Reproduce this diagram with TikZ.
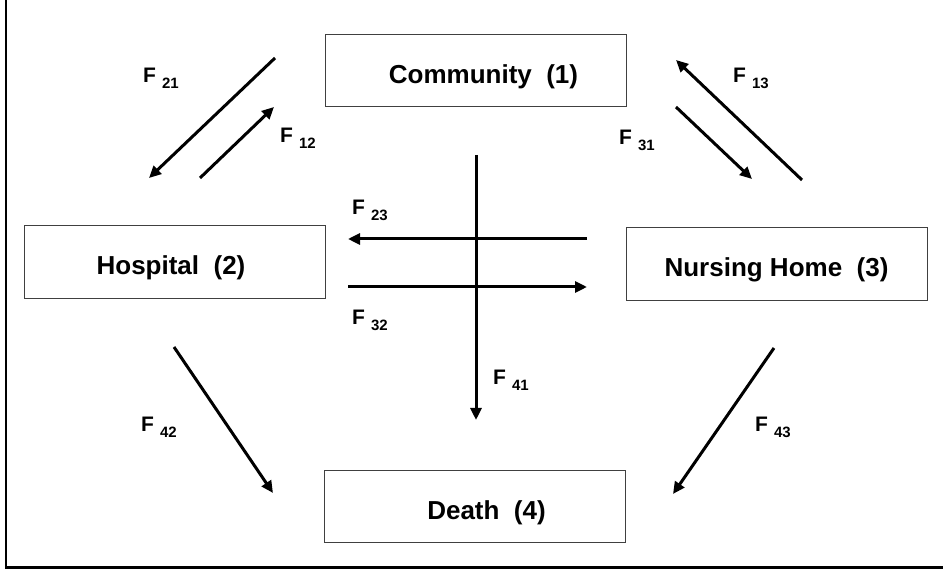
\documentclass[tikz,border=0pt]{standalone}
\usepackage{fontspec}
\setmainfont{Liberation Sans}
\usetikzlibrary{arrows.meta}
\tikzset{
  statebox/.style={draw=black!75, line width=1pt, minimum width=301pt, minimum height=72pt,
    inner sep=0pt, font=\fontsize{26}{26}\selectfont\bfseries, text height=25pt, text depth=0pt},
  flow/.style={line width=3pt, -{Triangle[length=12pt,width=11pt]}},
  flowlab/.style={anchor=base west, inner sep=0pt, font=\bfseries},
  frameline/.style={line width=2.6pt}
}
\newcommand{\flabel}[1]{{\fontsize{21}{21}\selectfont F}\hspace{6pt}\raisebox{-6pt}{\fontsize{15}{15}\selectfont #1}}
\begin{document}
\begin{tikzpicture}[x=1pt,y=1pt]
\useasboundingbox (0,0) rectangle (943,569);
% frame
\coordinate (ftop) at (6,569);
\coordinate (fcorner) at (6,1.3);
\coordinate (fright) at (943,1.3);
\draw[frameline] (ftop) -- (fcorner) -- (fright);
% states
\node[statebox] (comm) at (475.5,498) {\hspace*{16pt}Community\ \ (1)};
\node[statebox, minimum height=73pt] (hosp) at (174.5,306.5) {Hospital\ \ (2)\hspace*{7pt}};
\node[statebox, minimum height=73pt] (nurs) at (776.5,304.5) {Nursing Home\ \ (3)};
\node[statebox] (death) at (475,62) {\hspace*{23pt}Death\ \ (4)};
% arrow end points
\coordinate (a21s) at (275,511); \coordinate (a21e) at (149,391);
\coordinate (a12s) at (200,391); \coordinate (a12e) at (274,462);
\coordinate (a13s) at (802,389); \coordinate (a13e) at (676,509);
\coordinate (a31s) at (676,462); \coordinate (a31e) at (752,390);
\coordinate (a23s) at (587,330); \coordinate (a23e) at (348,330);
\coordinate (a32s) at (348,282); \coordinate (a32e) at (587,282);
\coordinate (a41s) at (476,414); \coordinate (a41e) at (476,149);
\coordinate (a42s) at (174,222); \coordinate (a42e) at (273,76);
\coordinate (a43s) at (774,221); \coordinate (a43e) at (673,75);
% arrows
\draw[flow] (a21s) -- (a21e);
\draw[flow] (a12s) -- (a12e);
\draw[flow] (a13s) -- (a13e);
\draw[flow] (a31s) -- (a31e);
\draw[flow] (a23s) -- (a23e);
\draw[flow] (a32s) -- (a32e);
\draw[flow] (a41s) -- (a41e);
\draw[flow] (a42s) -- (a42e);
\draw[flow] (a43s) -- (a43e);
% labels
\node[flowlab] (l21) at (143,486) {\flabel{21}};
\node[flowlab] (l12) at (280,426) {\flabel{12}};
\node[flowlab] (l13) at (733,486) {\flabel{13}};
\node[flowlab] (l31) at (619,424) {\flabel{31}};
\node[flowlab] (l23) at (352,354) {\flabel{23}};
\node[flowlab] (l32) at (352,244) {\flabel{32}};
\node[flowlab] (l41) at (493,184) {\flabel{41}};
\node[flowlab] (l42) at (141,137) {\flabel{42}};
\node[flowlab] (l43) at (755,137) {\flabel{43}};
\end{tikzpicture}
\end{document}
